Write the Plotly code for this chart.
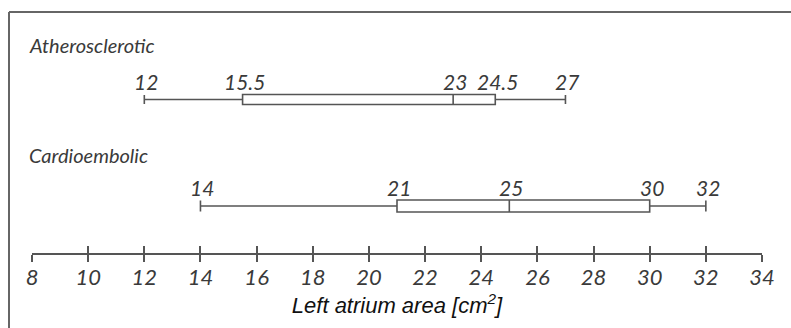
import plotly.graph_objects as go

# ---- data ----
groups = ["Atherosclerotic", "Cardioembolic"]
lower = [12, 14]
q1 = [15.5, 21]
median = [23, 25]
q3 = [24.5, 30]
upper = [27, 32]
tick_vals = list(range(8, 35, 2))
tick_text = [str(v) for v in tick_vals]
axis_title = "Left atrium area [cm<sup>2</sup>]"

# layout positions (pixel-like y coordinate, top = 0)
box_y = [99.5, 206]
box_w = [10, 12]
label_y = [81, 187]
title_y = [45, 155]

W, H = 791, 328
ML, MR, MT, MB = 32, 29, 0, 75
AX_Y = H - MB  # 253

LINE = "#555555"
TXT = "#3a3a3a"
NUMFONT = "Lato"

fig = go.Figure()
for i, g in enumerate(groups):
    fig.add_trace(go.Box(
        orientation="h",
        y=[box_y[i]], q1=[q1[i]], median=[median[i]], q3=[q3[i]],
        lowerfence=[lower[i]], upperfence=[upper[i]],
        width=box_w[i], whiskerwidth=0.9,
        fillcolor="white", line=dict(color=LINE, width=1.6),
        boxpoints=False, hoverinfo="skip", showlegend=False,
        xaxis="x", yaxis="y",
    ))
    vals = [lower[i], q1[i], median[i], q3[i], upper[i]]
    for v in vals:
        lab = ("%g" % v)
        fig.add_annotation(x=v, y=label_y[i], xref="x", yref="y", text=lab,
                           showarrow=False, xanchor="center", yanchor="middle",
                           xshift=2,
                           font=dict(family=NUMFONT, size=21, color=TXT, style="italic"))
    fig.add_annotation(x=(27 - ML) / (W - ML - MR), y=title_y[i], xref="paper", yref="y",
                       text=g, showarrow=False, xanchor="left", yanchor="middle",
                       font=dict(family=NUMFONT, size=20, color=TXT, style="italic"))

# second overlaying axis carrying upward tick halves and the labels
fig.add_trace(go.Scatter(x=[8, 34], y=[None, None], xaxis="x2", yaxis="y",
                         showlegend=False, hoverinfo="skip"))

pw = W - ML - MR
fig.update_layout(
    width=W, height=H,
    margin=dict(l=ML, r=MR, t=MT, b=MB),
    paper_bgcolor="white", plot_bgcolor="white",
    xaxis=dict(range=[8, 34], tickvals=tick_vals, showticklabels=False,
               showline=True, linecolor=LINE, linewidth=1.5,
               ticks="outside", ticklen=7, tickwidth=1.5, tickcolor=LINE,
               showgrid=False, zeroline=False),
    xaxis2=dict(range=[8, 34], overlaying="x", side="bottom", anchor="y",
                tickvals=tick_vals, ticktext=tick_text,
                ticks="inside", ticklen=7, tickwidth=1.5, tickcolor=LINE,
                tickfont=dict(family=NUMFONT, size=22, color=TXT, style="italic"),
                ticklabelstandoff=9,
                showgrid=False, zeroline=False, showline=False,
                title=dict(text=axis_title, standoff=2,
                           font=dict(family="Liberation Sans", size=22, color="#111111", style="italic"))),
    yaxis=dict(range=[AX_Y, 0], visible=False, showgrid=False, zeroline=False),
)

# frame lines (top and left) of the figure box
xl = (9 - ML) / pw
yt = 1 - 12 / AX_Y
yb = 1 - H / AX_Y
xr = 1 + (W - ML - pw) / pw
fig.add_shape(type="line", xref="paper", yref="paper", x0=xl, x1=xr, y0=yt, y1=yt,
              line=dict(color="#666666", width=2))
fig.add_shape(type="line", xref="paper", yref="paper", x0=xl, x1=xl, y0=yt, y1=yb,
              line=dict(color="#666666", width=2))

fig.write_html("out.html", config={"displayModeBar": False},
               post_script="document.body.style.margin='0';")
